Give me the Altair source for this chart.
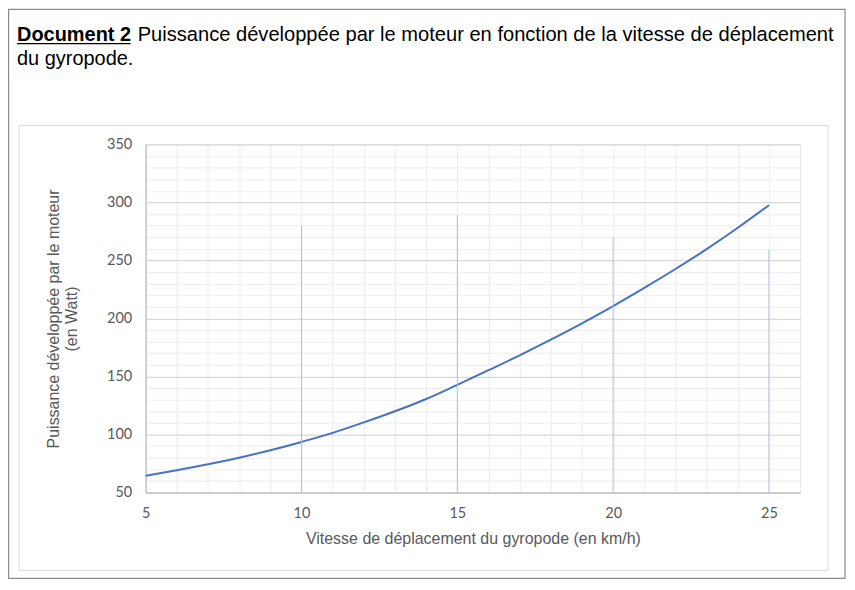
import altair as alt
import pandas as pd

# Data
speed = [5, 6, 7, 8, 9, 10, 11, 12, 13, 14, 15, 16, 17, 18, 19, 20, 21, 22, 23, 24, 25]
power = [64.5, 69.2, 74.3, 80.0, 86.4, 93.6, 101.4, 110.4, 120.0, 130.6, 142.8, 155.4, 168.2, 181.7, 195.8, 210.7, 226.3, 242.6, 259.7, 278.1, 297.6]

drop_x = [10, 15, 20, 25]
drop_top = [280, 289, 270, 259]

x_ticks = [5, 10, 15, 20, 25]
y_ticks = [50, 100, 150, 200, 250, 300, 350]

title_bold = "Document 2"
title_rest = "Puissance développée par le moteur en fonction de la vitesse de déplacement"
title_line2 = "du gyropode."
x_title = "Vitesse de déplacement du gyropode (en km/h)"
y_title = ["Puissance développée par le moteur", "(en Watt)"]

curve = pd.DataFrame({"speed": speed, "power": power})
drops = pd.DataFrame({"speed": drop_x, "power": drop_top, "base": [50] * len(drop_x)})
one = pd.DataFrame({"k": [0]})

TXT = "#595959"
LAB_FONT = "Lato"
TITLE_FONT = "Liberation Sans"

x_scale = alt.Scale(domain=[5, 26], nice=False, zero=False)
y_scale = alt.Scale(domain=[50, 350], nice=False, zero=False)

x_axis = alt.Axis(
    values=list(range(5, 27)),
    labelExpr="indexof(" + str(x_ticks) + ", datum.value) >= 0 ? datum.label : ''",
    ticks=False,
    labelOverlap=False,
    labelFlush=False,
    labelPadding=14,
    labelFont=LAB_FONT,
    labelFontSize=14.5,
    labelColor=TXT,
    gridColor="#ececec",
    gridWidth=1,
    domainColor="#bfbfbf",
    domainWidth=1.2,
    title=x_title,
    titleFont=TITLE_FONT,
    titleFontSize=16,
    titleFontWeight="normal",
    titleColor=TXT,
    titlePadding=11,
)

y_axis = alt.Axis(
    values=list(range(50, 351, 10)),
    labelExpr="indexof(" + str(y_ticks) + ", datum.value) >= 0 ? datum.label : ''",
    ticks=False,
    labelOverlap=False,
    labelFlush=False,
    labelPadding=14,
    labelFont=LAB_FONT,
    labelFontSize=14.5,
    labelColor=TXT,
    gridColor={"expr": "datum.value % 50 == 0 ? '#d9d9d9' : '#f0f0f0'"},
    gridWidth=1.2,
    domainColor="#bfbfbf",
    domainWidth=1.2,
    title=y_title,
    titleFont=TITLE_FONT,
    titleFontSize=16,
    titleFontWeight="normal",
    titleColor=TXT,
    titlePadding=27,
)

line = alt.Chart(curve).mark_line(color="#4472C4", strokeWidth=2, interpolate="monotone").encode(
    x=alt.X("speed:Q", scale=x_scale, axis=x_axis),
    y=alt.Y("power:Q", scale=y_scale, axis=y_axis),
)

drop_rules = alt.Chart(drops).mark_rule(color="#a8c2ea", strokeWidth=1).encode(
    x=alt.X("speed:Q", scale=x_scale, axis=x_axis),
    y=alt.Y("base:Q", scale=y_scale, axis=y_axis),
    y2="power:Q",
)

outer = alt.Chart(one).mark_rect(filled=False, stroke="#8c8c8c", strokeWidth=1.2).encode(
    x=alt.value(-137.4), x2=alt.value(701), y=alt.value(-135.4), y2=alt.value(435)
)
inner = alt.Chart(one).mark_rect(filled=False, stroke="#d9d9d9", strokeWidth=1).encode(
    x=alt.value(-127), x2=alt.value(684), y=alt.value(-19), y2=alt.value(427)
)

t_bold = alt.Chart(one).mark_text(
    text=title_bold, font=TITLE_FONT, fontSize=20, fontWeight="bold", color="#000000",
    align="left", baseline="alphabetic"
).encode(x=alt.value(-129), y=alt.value(-104))
underline = alt.Chart(one).mark_rule(color="#000000", strokeWidth=1.4).encode(
    x=alt.value(-129), x2=alt.value(-15), y=alt.value(-101)
)
t_rest = alt.Chart(one).mark_text(
    text=title_rest, font=TITLE_FONT, fontSize=20.15, color="#000000",
    align="left", baseline="alphabetic"
).encode(x=alt.value(-8), y=alt.value(-104))
t_line2 = alt.Chart(one).mark_text(
    text=title_line2, font=TITLE_FONT, fontSize=20, color="#000000",
    align="left", baseline="alphabetic"
).encode(x=alt.value(-129), y=alt.value(-80))

chart = alt.layer(
    line, drop_rules, outer, inner, t_bold, underline, t_rest, t_line2
).properties(
    width=656,
    height=349,
    autosize="none",
    padding={"left": 138, "top": 136, "right": 47, "bottom": 89},
).configure_view(strokeWidth=0).configure(background="white")

chart.save("out.html", embed_options={"renderer": "svg", "actions": False})
